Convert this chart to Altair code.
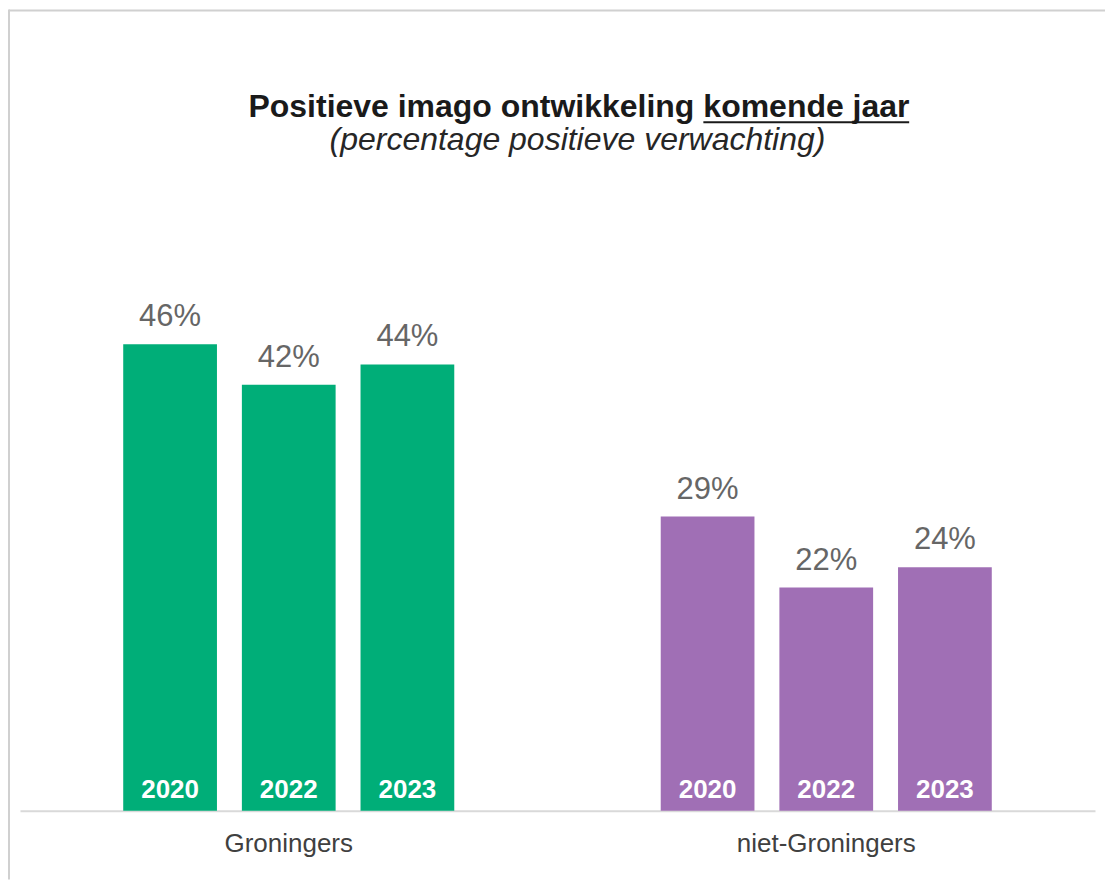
import altair as alt
import pandas as pd

groups = ["Groningers", "Groningers", "Groningers",
          "niet-Groningers", "niet-Groningers", "niet-Groningers"]
years = ["2020", "2022", "2023", "2020", "2022", "2023"]
values = [46, 42, 44, 29, 22, 24]
group_order = ["Groningers", "niet-Groningers"]
group_colors = ["#00AE78", "#A06FB5"]

title_main = "Positieve imago ontwikkeling"
title_underlined = "komende jaar"
subtitle = "(percentage positieve verwachting)"

df = pd.DataFrame({"group": groups, "year": years, "value": values})
df["label"] = df["value"].astype(str) + "%"

FONT = "Liberation Sans"

x_enc = alt.X("group:N", sort=group_order,
              scale=alt.Scale(paddingInner=0, paddingOuter=0),
              axis=alt.Axis(title=None, labelAngle=0, ticks=False, grid=False,
                            domainColor="#d9d9d9", domainWidth=2,
                            labelFontSize=26, labelColor="#404040",
                            labelFont=FONT, labelPadding=20))
xo_enc = alt.XOffset("year:N", scale=alt.Scale(paddingInner=0.21, paddingOuter=0.87))
y_enc = alt.Y("value:Q", scale=alt.Scale(domain=[0, 60]), axis=None)

base = alt.Chart(df)

bars = base.mark_bar().encode(
    x=x_enc, xOffset=xo_enc, y=y_enc,
    color=alt.Color("group:N", scale=alt.Scale(domain=group_order, range=group_colors),
                    legend=None),
)

value_labels = base.mark_text(baseline="alphabetic", dy=-18, fontSize=31,
                              font=FONT, color="#666666").encode(
    x=x_enc, xOffset=xo_enc, y=y_enc, text="label:N"
)

year_labels = base.mark_text(baseline="alphabetic", dy=-13, fontSize=26,
                             font=FONT, fontWeight="bold", color="white").encode(
    x=x_enc, xOffset=xo_enc, y=alt.datum(0), text="year:N"
)

one = alt.Chart(pd.DataFrame({"a": [0]}))
border_top = one.mark_rule(color="#d0d0d0", strokeWidth=2).encode(
    x=alt.value(-11), x2=alt.value(1086), y=alt.value(-192)
)
border_left = one.mark_rule(color="#d0d0d0", strokeWidth=2).encode(
    x=alt.value(-11), y=alt.value(-193), y2=alt.value(678)
)

titles = alt.Chart(pd.DataFrame({
    "t1": [title_main], "t2": [title_underlined], "st": [subtitle]
}))
title1 = titles.mark_text(align="right", baseline="alphabetic", fontSize=32,
                          font=FONT, fontWeight="bold", color="#1a1a1a").encode(
    x=alt.value(675), y=alt.value(-85), text="t1:N"
)
title2 = titles.mark_text(align="left", baseline="alphabetic", fontSize=32,
                          font=FONT, fontWeight="bold", color="#1a1a1a").encode(
    x=alt.value(684), y=alt.value(-85), text="t2:N"
)
sub = titles.mark_text(align="center", baseline="alphabetic", fontSize=32,
                       font=FONT, fontStyle="italic", color="#262626").encode(
    x=alt.value(558), y=alt.value(-52), text="st:N"
)
underline = one.mark_rule(color="#1a1a1a", strokeWidth=2).encode(
    x=alt.value(684), x2=alt.value(890), y=alt.value(-80)
)

chart = alt.layer(border_top, border_left, title1, title2, sub, underline,
                  bars, value_labels, year_labels).properties(
    width=1076, height=609,
    padding={"left": 0, "top": 0, "right": 0, "bottom": 0},
).configure(background="white").configure_view(strokeWidth=0)

chart.save("out.html", embed_options={"renderer": "svg", "actions": False})
